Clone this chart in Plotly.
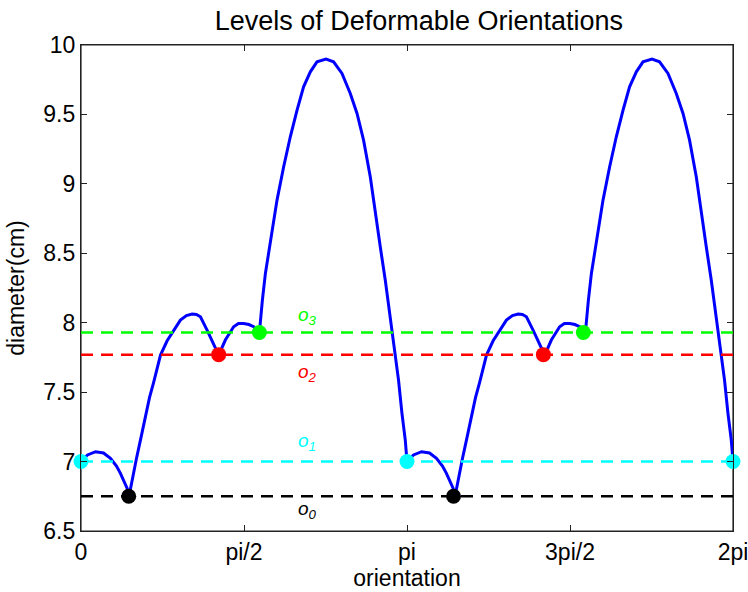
import numpy as np
import plotly.graph_objects as go

# Diameter profile over one half-turn (orientation 0..pi, radians); the
# profile repeats with period pi.
theta_half = [0.000, 0.063, 0.140, 0.217, 0.284, 0.342, 0.380, 0.419, 0.445, 0.462,
              0.490, 0.534, 0.580, 0.620, 0.660, 0.700, 0.766, 0.830, 0.878, 0.958,
              1.016, 1.071, 1.112, 1.151, 1.215, 1.279, 1.327, 1.391, 1.471, 1.517,
              1.568, 1.618, 1.664, 1.719, 1.728, 1.748, 1.777, 1.825, 1.889, 1.953,
              2.017, 2.082, 2.145, 2.210, 2.274, 2.361, 2.434, 2.515, 2.595, 2.660,
              2.723, 2.788, 2.836, 2.884, 2.932, 2.974, 3.002, 3.028, 3.060, 3.093,
              3.125, np.pi]
diam_half = [7.000, 7.048, 7.071, 7.062, 7.024, 6.968, 6.915, 6.846, 6.807, 6.747,
             6.860, 7.020, 7.180, 7.320, 7.460, 7.570, 7.767, 7.870, 7.928, 8.019,
             8.051, 8.062, 8.059, 8.043, 7.947, 7.839, 7.767, 7.875, 7.971, 7.994,
             7.995, 7.987, 7.971, 7.928, 8.019, 8.163, 8.355, 8.595, 8.883, 9.123,
             9.339, 9.531, 9.699, 9.807, 9.879, 9.898, 9.879, 9.795, 9.651, 9.507,
             9.315, 9.049, 8.787, 8.547, 8.307, 8.067, 7.923, 7.767, 7.587, 7.347,
             7.155, 7.000]

# Deformable orientation levels o0..o3
level_names = ["o0", "o1", "o2", "o3"]
level_values = [6.75, 7.00, 7.77, 7.93]
level_colors = ["#000000", "#00ffff", "#ff0000", "#00ff00"]

# Orientations sitting on each level
level_points_theta = [
    [0.460, 3.590],
    [0.000, np.pi, 2 * np.pi],
    [1.327, 4.456],
    [1.719, 4.841],
]

x_tickvals = [0, np.pi / 2, np.pi, 3 * np.pi / 2, 2 * np.pi]
x_ticktext = ["0", "pi/2", "pi", "3pi/2", "2pi"]

FONT = "Liberation Sans, Arial, sans-serif"

theta = np.concatenate([np.array(theta_half), np.array(theta_half[1:]) + np.pi])
diam = np.concatenate([np.array(diam_half), np.array(diam_half[1:])])

fig = go.Figure()

fig.add_trace(go.Scatter(
    x=theta, y=diam, mode="lines",
    line=dict(color="#0000ff", width=3),
    hoverinfo="skip", showlegend=False,
))

for value, color in zip(level_values, level_colors):
    fig.add_trace(go.Scatter(
        x=[0, 2 * np.pi], y=[value, value], mode="lines",
        line=dict(color=color, width=2.5, dash="12px,8px"),
        hoverinfo="skip", showlegend=False,
    ))

for value, color, pts in zip(level_values, level_colors, level_points_theta):
    fig.add_trace(go.Scatter(
        x=pts, y=[value] * len(pts), mode="markers",
        marker=dict(color=color, size=15, symbol="circle", line=dict(width=0)),
        cliponaxis=False, hoverinfo="skip", showlegend=False,
    ))

# Level labels: o1, o3 above their line; o0, o2 below
label_x = 2.18
label_offsets = [-0.10, 0.14, -0.13, 0.115]
for name, value, color, off in zip(level_names, level_values, level_colors, label_offsets):
    fig.add_annotation(
        x=label_x, y=value + off, xref="x", yref="y",
        text="<i>%s<sub>%s</sub></i>" % (name[0], name[1]),
        showarrow=False, font=dict(family=FONT, size=19, color=color),
    )

# Axes box
fig.add_shape(type="rect", xref="paper", yref="paper", x0=0, y0=0, x1=1, y1=1,
              line=dict(color="#222222", width=1.2), fillcolor="rgba(0,0,0,0)",
              layer="below")

fig.update_layout(
    width=748, height=592,
    margin=dict(l=80.5, r=15, t=45, b=61),
    paper_bgcolor="white", plot_bgcolor="white",
    font=dict(family=FONT, size=22, color="#000000"),
    title=dict(text="Levels of Deformable Orientations", x=0.56, xanchor="center",
               y=0.965, yanchor="middle", font=dict(family=FONT, size=27, color="#000000")),
)

fig.update_xaxes(
    range=[0, 2 * np.pi], tickvals=x_tickvals, ticktext=x_ticktext,
    showline=True, linecolor="#222222", linewidth=1.2, mirror="ticks",
    ticks="inside", ticklen=6, tickcolor="#222222", showgrid=False, zeroline=False,
    tickfont=dict(family=FONT, size=23), automargin=False, ticklabeloverflow="allow",
    title=dict(text="orientation", font=dict(family=FONT, size=23), standoff=0),
)
fig.update_yaxes(
    range=[6.5, 10], dtick=0.5, tick0=6.5,
    showline=True, linecolor="#222222", linewidth=1.2, mirror="ticks",
    ticks="inside", ticklen=6, tickcolor="#222222", showgrid=False, zeroline=False,
    tickfont=dict(family=FONT, size=23), automargin=False, ticklabeloverflow="allow",
    title=dict(text="diameter(cm)", font=dict(family=FONT, size=23), standoff=12),
)

fig.write_html("out.html")
